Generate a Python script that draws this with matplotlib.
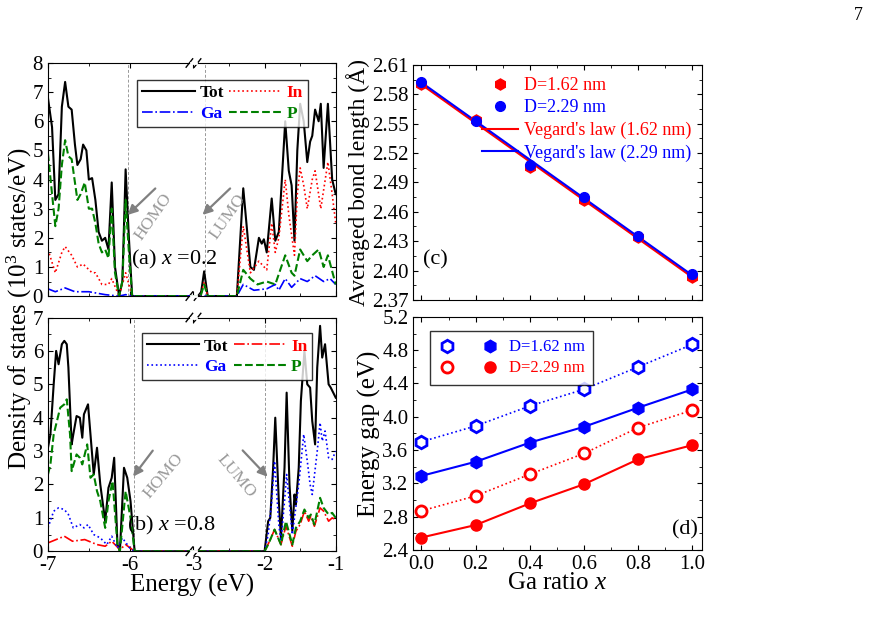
import numpy as np
import matplotlib
matplotlib.use("Agg")
import matplotlib.pyplot as plt
from matplotlib.legend_handler import HandlerTuple
from matplotlib.lines import Line2D

plt.rcParams["font.family"] = ["Liberation Serif", "DejaVu Serif"]
plt.rcParams["mathtext.fontset"] = "custom"
plt.rcParams["mathtext.rm"] = "Liberation Serif"
plt.rcParams["mathtext.it"] = "Liberation Serif:italic"
plt.rcParams["axes.unicode_minus"] = False
plt.rcParams["xtick.direction"] = "in"
plt.rcParams["ytick.direction"] = "in"
plt.rcParams["xtick.top"] = True
plt.rcParams["ytick.right"] = True

RED, BLUE, GREEN = "#ff0000", "#0000ff", "#008000"

# ---- panel (a): x = 0.2 ----
a_tot_e = [-7.0, -6.95, -6.91, -6.87, -6.83, -6.79, -6.75, -6.71, -6.67, -6.64, -6.60, -6.57, -6.53,
           -6.50, -6.46, -6.42, -6.38, -6.34, -6.30, -6.26, -6.22, -6.18, -6.13, -6.09, -6.05, -6.01,
           -5.97, -2.90, -2.85, -2.80, -2.39, -2.30, -2.20, -2.15, -2.08, -2.04, -2.01, -1.97, -1.90,
           -1.85, -1.80, -1.71, -1.66, -1.62, -1.58, -1.54, -1.50, -1.45, -1.40, -1.36, -1.33, -1.29,
           -1.24, -1.21, -1.17, -1.11, -1.05, -1.0]
a_tot = [6.8, 5.8, 3.3, 3.5, 6.5, 7.35, 6.5, 6.4, 5.2, 4.5, 4.7, 5.2, 5.0, 4.0, 4.05, 3.3, 2.2, 1.9,
         2.0, 1.6, 3.9, 1.0, 0.0, 0.5, 4.35, 2.0, 0.0, 0.0, 0.85, 0.0, 0.0, 3.7, 1.0, 0.9, 2.0, 1.8,
         1.95, 1.5, 3.35, 1.9, 2.2, 6.0, 4.3, 3.8, 1.9, 5.0, 6.6, 6.0, 4.6, 5.3, 5.5, 6.4, 6.0, 6.6,
         4.4, 6.6, 4.0, 3.5]
a_p_e = [-7.0, -6.95, -6.91, -6.87, -6.83, -6.79, -6.75, -6.71, -6.64, -6.60, -6.55, -6.50, -6.46,
         -6.42, -6.38, -6.34, -6.30, -6.26, -6.22, -6.18, -6.13, -6.09, -6.05, -6.01, -5.97, -2.90,
         -2.85, -2.80, -2.39, -2.30, -2.20, -2.10, -1.97, -1.85, -1.71, -1.62, -1.58, -1.50, -1.40,
         -1.33, -1.24, -1.17, -1.11, -1.0]
a_p = [4.9, 3.5, 2.4, 3.0, 4.5, 5.35, 4.8, 4.7, 3.3, 3.5, 3.9, 3.0, 3.0, 2.5, 1.8, 1.5, 1.6, 1.3,
       3.0, 0.8, 0.0, 0.5, 3.3, 1.5, 0.0, 0.0, 0.4, 0.0, 0.0, 0.9, 0.6, 0.4, 0.5, 0.4, 1.4, 0.8,
       0.7, 1.6, 1.2, 1.4, 1.6, 1.0, 1.4, 0.4]
a_in_e = [-7.0, -6.91, -6.83, -6.79, -6.71, -6.64, -6.57, -6.46, -6.42, -6.34, -6.26, -6.22, -6.13,
          -6.05, -5.97, -2.90, -2.85, -2.80, -2.39, -2.30, -2.20, -2.08, -1.97, -1.90, -1.85, -1.80,
          -1.71, -1.66, -1.58, -1.54, -1.50, -1.45, -1.40, -1.33, -1.29, -1.21, -1.11, -1.05, -1.0]
a_in = [1.6, 0.8, 1.5, 1.7, 1.4, 1.0, 1.1, 0.8, 0.8, 0.4, 0.4, 0.6, 0.0, 0.8, 0.0, 0.0, 0.5, 0.0,
        0.0, 2.4, 0.8, 1.2, 0.9, 2.5, 1.5, 2.0, 4.0, 2.8, 1.4, 3.5, 4.4, 3.8, 3.0, 4.0, 4.3, 3.0,
        4.6, 3.5, 2.5]
a_ga_e = [-7.0, -6.91, -6.79, -6.67, -6.50, -6.30, -6.13, -6.05, -5.97, -2.39, -2.30, -2.15, -1.97,
          -1.85, -1.80, -1.71, -1.62, -1.50, -1.40, -1.29, -1.17, -1.08, -1.0]
a_ga = [0.25, 0.15, 0.28, 0.15, 0.15, 0.05, 0.0, 0.05, 0.0, 0.0, 0.4, 0.2, 0.25, 0.4, 0.2, 0.6,
        0.3, 0.6, 0.5, 0.7, 0.5, 0.6, 0.4]

# ---- panel (b): x = 0.8 ----
b_tot_e = [-7.0, -6.97, -6.93, -6.90, -6.87, -6.83, -6.80, -6.77, -6.75, -6.71, -6.69, -6.65, -6.61,
           -6.58, -6.56, -6.51, -6.48, -6.44, -6.40, -6.36, -6.30, -6.26, -6.22, -6.19, -6.15, -6.12,
           -6.09, -6.07, -6.03, -5.99, -5.94, -2.0, -1.95, -1.92, -1.88, -1.85, -1.80, -1.77, -1.72,
           -1.69, -1.65, -1.61, -1.58, -1.56, -1.52, -1.49, -1.44, -1.40, -1.36, -1.33, -1.29, -1.26,
           -1.22, -1.19, -1.15, -1.10, -1.07, -1.0]
b_tot = [3.1, 3.5, 5.0, 6.0, 5.6, 6.2, 6.3, 6.2, 5.5, 3.2, 3.5, 4.05, 4.0, 3.4, 4.1, 4.4, 3.5, 2.3,
         3.1, 2.0, 0.9, 1.9, 2.2, 2.8, 0.2, 0.0, 1.5, 2.5, 2.2, 1.5, 0.0, 0.0, 0.9, 1.0, 2.5, 4.0,
         1.5, 0.4, 2.5, 4.75, 2.0, 0.6, 1.7, 1.4, 2.5, 4.5, 6.0, 5.0, 4.9, 3.9, 3.2, 5.5, 6.75, 5.8,
         6.2, 5.0, 4.9, 4.6]
b_ga_e = [-7.0, -6.93, -6.87, -6.80, -6.75, -6.69, -6.61, -6.56, -6.51, -6.44, -6.36, -6.28, -6.22,
          -6.15, -6.09, -6.0, -5.94, -2.0, -1.95, -1.90, -1.86, -1.80, -1.77, -1.72, -1.69, -1.61,
          -1.58, -1.52, -1.45, -1.40, -1.36, -1.33, -1.26, -1.22, -1.19, -1.15, -1.10, -1.05, -1.0]
b_ga = [0.7, 1.2, 1.3, 1.25, 1.1, 0.7, 0.8, 0.7, 0.8, 0.5, 0.4, 0.2, 0.45, 0.1, 0.4, 0.1, 0.0, 0.0,
        0.5, 1.5, 2.7, 0.8, 0.3, 1.5, 2.3, 0.5, 1.0, 2.0, 3.5, 2.7, 2.0, 1.7, 3.0, 3.85, 3.3, 3.6,
        2.8, 2.75, 3.0]
b_in_e = [-7.0, -6.90, -6.80, -6.70, -6.55, -6.40, -6.30, -6.22, -6.12, -6.05, -5.94, -2.0, -1.93,
          -1.86, -1.77, -1.70, -1.61, -1.56, -1.50, -1.44, -1.38, -1.35, -1.30, -1.22, -1.17, -1.10,
          -1.05, -1.0]
b_in = [0.25, 0.35, 0.45, 0.3, 0.35, 0.2, 0.15, 0.3, 0.05, 0.2, 0.0, 0.0, 0.3, 0.65, 0.2, 0.75,
        0.15, 0.6, 0.8, 1.2, 0.9, 1.05, 0.75, 1.3, 1.2, 0.9, 1.0, 0.95]
b_p_e = [-7.0, -6.97, -6.93, -6.85, -6.80, -6.77, -6.73, -6.71, -6.65, -6.61, -6.58, -6.52, -6.48,
         -6.44, -6.40, -6.36, -6.30, -6.26, -6.21, -6.15, -6.12, -6.05, -5.99, -5.94, -2.0, -1.95,
         -1.86, -1.77, -1.70, -1.61, -1.56, -1.50, -1.44, -1.38, -1.35, -1.30, -1.22, -1.17, -1.10,
         -1.05, -1.0]
b_p = [2.3, 2.6, 3.5, 4.3, 4.4, 4.55, 3.5, 2.4, 2.9, 2.8, 2.6, 3.2, 2.2, 2.3, 1.8, 1.5, 0.7, 1.5,
       2.1, 0.2, 0.0, 1.8, 1.0, 0.0, 0.0, 0.2, 0.65, 0.2, 0.9, 0.2, 0.7, 0.9, 1.25, 1.0, 1.1, 0.8,
       1.6, 1.3, 1.1, 1.15, 1.0]

# ---- panels (c), (d) ----
ga_ratio = [0.0, 0.2, 0.4, 0.6, 0.8, 1.0]
bond_162 = [2.590, 2.554, 2.506, 2.472, 2.434, 2.393]
bond_229 = [2.593, 2.553, 2.508, 2.475, 2.435, 2.396]
vegard_x = [0.0, 1.0]
vegard_162 = [2.590, 2.393]
vegard_229 = [2.592, 2.395]

gap_162_open = [3.70, 3.89, 4.13, 4.33, 4.60, 4.87]
gap_162_fill = [3.29, 3.46, 3.69, 3.88, 4.11, 4.33]
gap_229_open = [2.87, 3.05, 3.31, 3.56, 3.87, 4.08]
gap_229_fill = [2.55, 2.70, 2.96, 3.19, 3.49, 3.66]

# broken energy axis: [-7, -5.22] and [-3, -1]
BREAK_L, BREAK_R, SCALE_R = -5.22, -3.0, 0.87
GAP_U = BREAK_L + 7


def fwd(e):
    e = np.asarray(e, dtype=float)
    return np.where(e < BREAK_L, e + 7, np.where(e <= BREAK_R, GAP_U, GAP_U + (e - BREAK_R) * SCALE_R))


def inv(u):
    u = np.asarray(u, dtype=float)
    return np.where(u < GAP_U, u - 7, (u - GAP_U) / SCALE_R + BREAK_R)


fig = plt.figure(figsize=(8.72, 6.3), dpi=100)
ax_a = fig.add_axes([0.055, 0.530, 0.330, 0.370])
ax_b = fig.add_axes([0.055, 0.125, 0.330, 0.371])
ax_c = fig.add_axes([0.474, 0.524, 0.331, 0.373])
ax_d = fig.add_axes([0.474, 0.127, 0.331, 0.370])


def dos_axes(ax, ymax, homo, lumo):
    ax.set_xscale("function", functions=(fwd, inv))
    ax.set_xlim(-7, -1)
    ax.set_ylim(0, ymax)
    ax.set_xticks([-7, -6, -3, -2, -1])
    ax.set_xticks([-6.5, -2.5, -1.5], minor=True)
    ax.set_yticks(range(0, ymax + 1))
    ax.set_yticks(np.arange(0.5, ymax, 1.0), minor=True)
    ax.tick_params(labelsize=15)
    for v in (homo, lumo):
        ax.axvline(v, color="0.6", ls=(0, (3, 2)), lw=0.7, zorder=0)
    tr = ax.get_xaxis_transform()
    for y0 in (0.0, 1.0):
        for dx in (-0.05, 0.05):
            u = GAP_U + dx
            ax.plot(inv([u - 0.04, u + 0.04]), [y0 - 0.018, y0 + 0.018], color="k", lw=1,
                    transform=tr, clip_on=False)
        ax.plot(inv([GAP_U - 0.03, GAP_U + 0.03]), [y0, y0], color="white", lw=2,
                transform=tr, clip_on=False, zorder=5)


def dos_legend(ax, handles, loc_xy):
    # ncol=2 fills column-wise: order Tot, Ga, In, P gives rows "Tot In" / "Ga P"
    order = [handles[0], handles[2], handles[1], handles[3]]
    leg = ax.legend(handles=order, ncol=2, loc="upper left", bbox_to_anchor=loc_xy,
                    fontsize=12.5, frameon=True, fancybox=False, edgecolor="k", handlelength=3.0,
                    columnspacing=0.3, handletextpad=0.3, borderpad=0.3, labelspacing=0.25)
    leg.get_frame().set_linewidth(1.0)
    for txt, h in zip(leg.get_texts(), order):
        txt.set_color(h.get_color())
        txt.set_fontweight("bold")


def gray_arrow(ax, start, end):
    ax.annotate("", xy=end, xytext=start, xycoords="axes fraction",
                arrowprops=dict(arrowstyle="-|>", color="0.5", lw=1.6, mutation_scale=14))


# (a)
dos_axes(ax_a, 8, -6.02, -2.84)
ax_a.set_xticklabels([])
l_tot, = ax_a.plot(a_tot_e, a_tot, color="k", lw=1.5, label="Tot")
l_in, = ax_a.plot(a_in_e, a_in, color=RED, lw=1.2, ls=":", label="In")
l_ga, = ax_a.plot(a_ga_e, a_ga, color=BLUE, lw=1.2, ls="-.", label="Ga")
l_p, = ax_a.plot(a_p_e, a_p, color=GREEN, lw=1.5, ls="--", label="P")
dos_legend(ax_a, [l_tot, l_in, l_ga, l_p], (0.28, 0.965))
ax_a.text(0.44, 0.155, "(a) $x$ =0.2", transform=ax_a.transAxes, ha="center", va="center", fontsize=16)
gray_arrow(ax_a, (0.38, 0.47), (0.27, 0.34))
gray_arrow(ax_a, (0.64, 0.47), (0.53, 0.34))
ax_a.text(0.365, 0.34, "HOMO", transform=ax_a.transAxes, rotation=55, color="0.6", fontsize=12.5,
          ha="center", va="center")
ax_a.text(0.625, 0.34, "LUMO", transform=ax_a.transAxes, rotation=55, color="0.6", fontsize=12.5,
          ha="center", va="center")

# (b)
dos_axes(ax_b, 7, -5.95, -2.0)
l_tot, = ax_b.plot(b_tot_e, b_tot, color="k", lw=1.5, label="Tot")
l_in, = ax_b.plot(b_in_e, b_in, color=RED, lw=1.2, ls="-.", label="In")
l_ga, = ax_b.plot(b_ga_e, b_ga, color=BLUE, lw=1.2, ls=":", label="Ga")
l_p, = ax_b.plot(b_p_e, b_p, color=GREEN, lw=1.5, ls="--", label="P")
dos_legend(ax_b, [l_tot, l_in, l_ga, l_p], (0.295, 0.97))
ax_b.text(0.43, 0.11, "(b) $x$ =0.8", transform=ax_b.transAxes, ha="center", va="center", fontsize=16)
gray_arrow(ax_b, (0.37, 0.44), (0.29, 0.31))
gray_arrow(ax_b, (0.67, 0.44), (0.77, 0.31))
ax_b.text(0.40, 0.32, "HOMO", transform=ax_b.transAxes, rotation=50, color="0.6", fontsize=12.5,
          ha="center", va="center")
ax_b.text(0.655, 0.32, "LUMO", transform=ax_b.transAxes, rotation=-50, color="0.6", fontsize=12.5,
          ha="center", va="center")
ax_b.set_xlabel("Energy (eV)", fontsize=18, labelpad=-1)
fig.text(0.022, 0.51, "Density of states (10$^3$ states/eV)", rotation=90, fontsize=18,
         ha="center", va="center")

# (c)
ax_c.plot(vegard_x, vegard_162, color=RED, lw=1.5, label="Vegard's law (1.62 nm)")
ax_c.plot(vegard_x, vegard_229, color=BLUE, lw=1.5, label="Vegard's law (2.29 nm)")
ax_c.plot(ga_ratio, bond_162, "h", color=RED, ms=8, ls="none", label="D=1.62 nm")
ax_c.plot(ga_ratio, bond_229, "o", color=BLUE, ms=7, ls="none", label="D=2.29 nm")
ax_c.set_xlim(-0.03, 1.035)
ax_c.set_ylim(2.37, 2.61)
ax_c.set_yticks(np.arange(2.37, 2.611, 0.03))
ax_c.set_yticks(np.arange(2.385, 2.61, 0.03), minor=True)
ax_c.set_xticks(ga_ratio)
ax_c.set_xticks([0.1, 0.3, 0.5, 0.7, 0.9], minor=True)
ax_c.set_xticklabels([])
ax_c.yaxis.set_major_formatter(matplotlib.ticker.FormatStrFormatter("%.2f"))
ax_c.tick_params(labelsize=15)
ax_c.set_ylabel("Averaged bond length (Å)", fontsize=17, labelpad=1)
h, lab = ax_c.get_legend_handles_labels()
order = [2, 3, 0, 1]
leg = ax_c.legend([h[i] for i in order], [lab[i] for i in order], loc="upper right",
                  bbox_to_anchor=(1.0, 0.995), frameon=False, fontsize=13, handlelength=2.0,
                  labelspacing=0.3, handletextpad=0.3, borderaxespad=0.2)
for txt, c in zip(leg.get_texts(), [RED, BLUE, RED, BLUE]):
    txt.set_color(c)
ax_c.text(0.075, 0.17, "(c)", transform=ax_c.transAxes, fontsize=16, ha="center", va="center")

# (d)
ax_d.plot(ga_ratio, gap_162_open, color=BLUE, ls=":", lw=1.2, marker="h", ms=9, mfc="white", mew=2)
ax_d.plot(ga_ratio, gap_162_fill, color=BLUE, ls="-", lw=1.5, marker="h", ms=9)
ax_d.plot(ga_ratio, gap_229_open, color=RED, ls=":", lw=1.2, marker="o", ms=8, mfc="white", mew=2)
ax_d.plot(ga_ratio, gap_229_fill, color=RED, ls="-", lw=1.5, marker="o", ms=8)
ax_d.set_xlim(-0.03, 1.035)
ax_d.set_ylim(2.4, 5.2)
ax_d.set_yticks(np.arange(2.4, 5.21, 0.4))
ax_d.set_yticks(np.arange(2.6, 5.2, 0.4), minor=True)
ax_d.set_xticks(ga_ratio)
ax_d.set_xticks([0.1, 0.3, 0.5, 0.7, 0.9], minor=True)
ax_d.xaxis.set_major_formatter(matplotlib.ticker.FormatStrFormatter("%.1f"))
ax_d.yaxis.set_major_formatter(matplotlib.ticker.FormatStrFormatter("%.1f"))
ax_d.tick_params(labelsize=15)
ax_d.set_ylabel("Energy gap (eV)", fontsize=18, labelpad=1)
ax_d.set_xlabel("Ga ratio $x$", fontsize=18, labelpad=-1)
hb = (Line2D([], [], color=BLUE, marker="h", ms=9, mfc="white", mew=2, ls="none"),
      Line2D([], [], color=BLUE, marker="h", ms=9, ls="none"))
hr = (Line2D([], [], color=RED, marker="o", ms=8, mfc="white", mew=2, ls="none"),
      Line2D([], [], color=RED, marker="o", ms=8, ls="none"))
leg = ax_d.legend([hb, hr], ["D=1.62 nm", "D=2.29 nm"], loc="upper left",
                  bbox_to_anchor=(0.03, 0.975), handler_map={tuple: HandlerTuple(ndivide=None, pad=1.5)},
                  handlelength=3.6, fontsize=12, fancybox=False, edgecolor="k",
                  borderpad=0.5, labelspacing=0.3, handletextpad=0.6)
leg.get_frame().set_linewidth(1.0)
for txt, c in zip(leg.get_texts(), [BLUE, RED]):
    txt.set_color(c)
ax_d.text(0.94, 0.085, "(d)", transform=ax_d.transAxes, fontsize=16, ha="center", va="center")

fig.text(0.984, 0.975, "7", fontsize=13, ha="center", va="center")

fig.savefig("out.png", dpi=100)
